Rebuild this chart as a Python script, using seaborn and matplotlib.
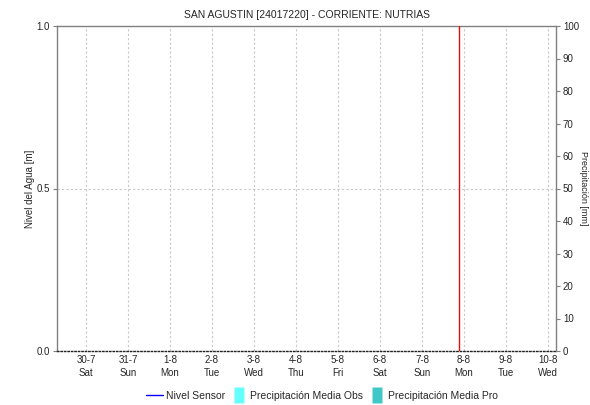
import matplotlib
matplotlib.use("Agg")
import matplotlib.pyplot as plt
import seaborn as sns
import pandas as pd
from matplotlib.lines import Line2D

sns.set_theme(style="white")
plt.rcParams['font.family'] = ['Liberation Sans', 'DejaVu Sans']

# ---- data ----
title = "SAN AGUSTIN [24017220] - CORRIENTE: NUTRIAS"
day_labels = ["30-7", "31-7", "1-8", "2-8", "3-8", "4-8", "5-8", "6-8", "7-8", "8-8", "9-8", "10-8"]
weekday_labels = ["Sat", "Sun", "Mon", "Tue", "Wed", "Thu", "Fri", "Sat", "Sun", "Mon", "Tue", "Wed"]
nivel_t = []       # no sensor data in the window
nivel_m = []
precip_obs = []    # no precipitation data
precip_pro = []
now_marker = 8.88  # days after 30-7
x_range = (-0.69, 11.19)
left_ticks = [0.0, 0.5, 1.0]
right_ticks = list(range(0, 101, 10))

fig = plt.figure(figsize=(5.9, 4.05), dpi=100)
ax = fig.add_axes([57/590, 1-351/405, (556-57)/590, (351-26)/405])
ax2 = ax.twinx()

df_n = pd.DataFrame({"t": pd.Series(nivel_t, dtype=float), "m": pd.Series(nivel_m, dtype=float)})
if len(df_n):
    sns.lineplot(data=df_n, x="t", y="m", ax=ax, color="blue", lw=1)

ax.set_xlim(*x_range)
ax.set_ylim(0, 1)
ax2.set_ylim(0, 100)
ax.set_yticks(left_ticks)
ax.set_yticklabels(["0.0", "0.5", "1.0"])
ax2.set_yticks(right_ticks)
xt = list(range(len(day_labels)))
ax.set_xticks(xt)
ax.set_xticklabels([f"{d}\n{w}" for d, w in zip(day_labels, weekday_labels)])

grid_kw = dict(color="#c8c8c8", lw=0.8, ls=(0, (2, 2)))
for x in xt:
    ax.axvline(x, **grid_kw, zorder=0)
ax.axhline(0.5, **grid_kw, zorder=0)

ax.axvline(now_marker, color="#e01010", lw=1.0, zorder=3)

for a in (ax, ax2):
    for s in ax.spines:
        a.spines[s].set_visible(False)
    a.grid(False)
ax.spines["left"].set_visible(True)
ax.spines["top"].set_visible(True)
ax.spines["bottom"].set_visible(True)
ax2.spines["right"].set_visible(True)
for s in ["left", "top"]:
    ax.spines[s].set_color("#808080")
    ax.spines[s].set_linewidth(1.0)
ax2.spines["right"].set_color("#808080")
ax2.spines["right"].set_linewidth(1.0)
ax.spines["bottom"].set_color("#222222")
ax.spines["bottom"].set_linestyle((0, (1, 1.5)))
ax.spines["bottom"].set_linewidth(1.0)

ax.tick_params(axis="y", which="major", length=3, width=0.8, color="#808080",
               labelsize=7, pad=2, left=True, direction="out")
ax2.tick_params(axis="y", which="major", length=3, width=0.8, color="#808080",
                labelsize=7, pad=2, right=True, direction="out")
ax.tick_params(axis="x", length=0, labelsize=7, pad=3)
for lab in ax.get_xticklabels():
    lab.set_linespacing(1.3)

ax.set_ylabel("Nivel del Agua [m]", fontsize=7)
ax.yaxis.set_label_coords(-0.045, 0.5)
ax2.set_ylabel("Precipitación [mm]", fontsize=6.5, rotation=270, va="center")
ax2.yaxis.set_label_coords(1.056, 0.5)

ax.set_title(title, fontsize=7.5, pad=6)

rect = [(-0.3, -0.5), (0.3, -0.5), (0.3, 0.5), (-0.3, 0.5), (-0.3, -0.5)]
handles = [Line2D([0], [0], color="blue", lw=1),
           Line2D([0], [0], ls="", marker=rect, markersize=11, markerfacecolor="#66ffff",
                  markeredgecolor="none"),
           Line2D([0], [0], ls="", marker=rect, markersize=11, markerfacecolor="#40c8c8",
                  markeredgecolor="none")]
labels = ["Nivel Sensor", "Precipitación Media Obs", "Precipitación Media Pro"]
fig.legend(handles, labels, loc="center", bbox_to_anchor=(322/590, 1-396/405), ncol=3,
           frameon=False, fontsize=7.5, handlelength=1.6, handletextpad=0.3,
           columnspacing=0.5)

fig.savefig("out.png", dpi=100)
